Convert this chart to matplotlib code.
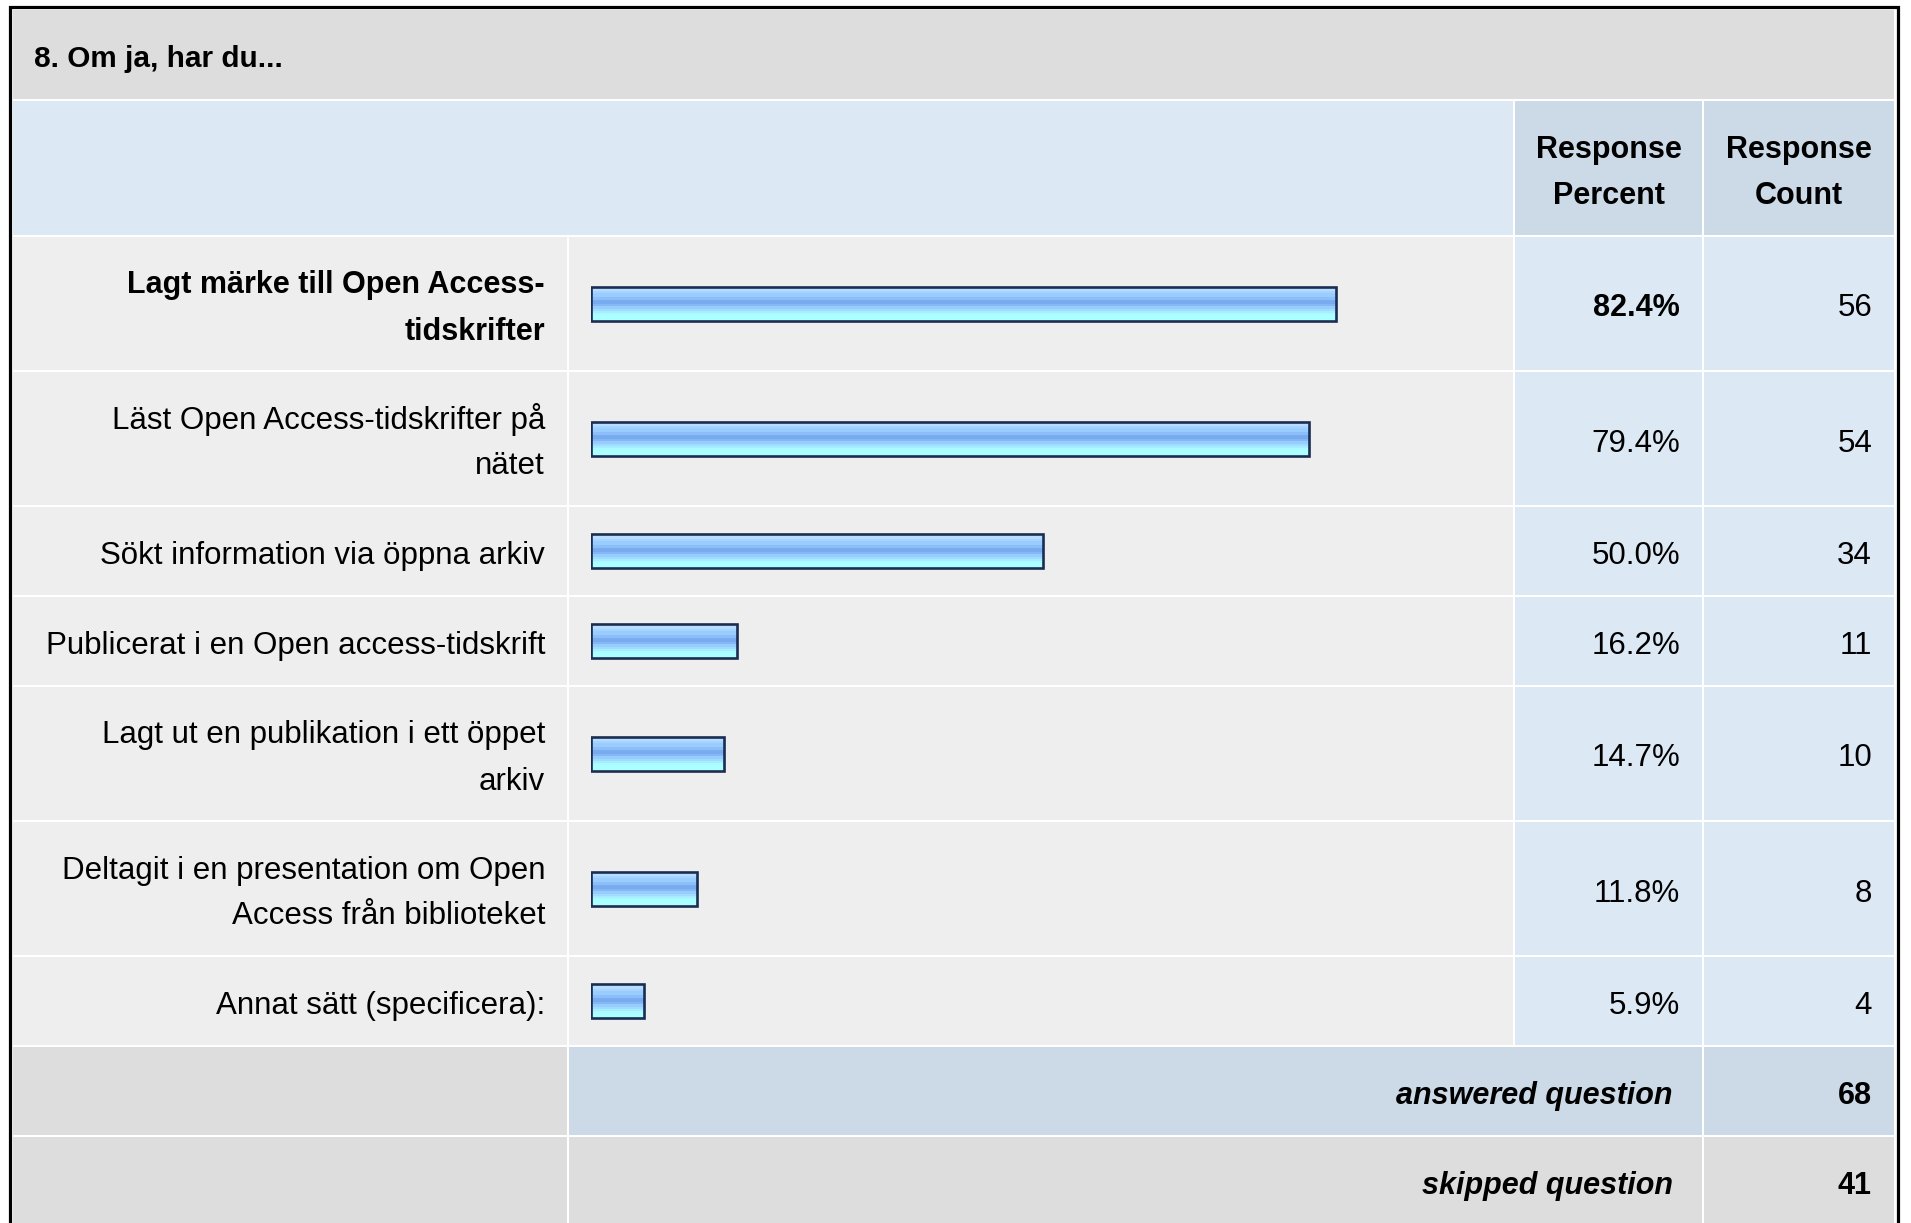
import matplotlib
matplotlib.use("Agg")
import matplotlib.pyplot as plt
import matplotlib.patches as patches
from matplotlib.colors import to_rgb
import numpy as np

plt.rcParams['font.family'] = ['Liberation Sans', 'DejaVu Sans']

title = "8. Om ja, har du..."
col_headers = ["Response\nPercent", "Response\nCount"]
labels = [
    "Lagt märke till Open Access-\ntidskrifter",
    "Läst Open Access-tidskrifter på\nnätet",
    "Sökt information via öppna arkiv",
    "Publicerat i en Open access-tidskrift",
    "Lagt ut en publikation i ett öppet\narkiv",
    "Deltagit i en presentation om Open\nAccess från biblioteket",
    "Annat sätt (specificera):",
]
percents = [82.4, 79.4, 50.0, 16.2, 14.7, 11.8, 5.9]
counts = [56, 54, 34, 11, 10, 8, 4]
footer_labels = ["answered question", "skipped question"]
footer_values = [68, 41]

W, H = 1911, 1223
DPI = 100
FS = 22.5      # regular text
FS_B = 22      # bold text

# column edges (pixels)
x_left, x_right = 13, 1894
x_lab, x_pct, x_cnt = 567, 1513, 1702
gap = 2
bar_x0, bar_x1 = 590.8, 1494.8

# colours
c_title = '#dddddd'
c_head = '#dde8f5'
c_head2 = '#ccd9e6'
c_row = '#eeeeee'
c_foot = '#dddddd'
edge_col = '#1a2d52'
stripes = ['#d2e9ff', '#b8dcff', '#a6d3ff', '#99ccff', '#99ccff', '#8cbff8',
           '#78abef', '#77aaee', '#84b7f3', '#97cdfd', '#9fdcff', '#a6eeff',
           '#aafaff', '#aaffff', '#aaffff']

fig = plt.figure(figsize=(W / DPI, H / DPI), dpi=DPI)
fig.patch.set_facecolor('white')
bg = fig.add_axes([0, 0, 1, 1])
bg.set_xlim(0, W)
bg.set_ylim(H, 0)
bg.axis('off')


def cell(x0, x1, y0, y1, color):
    bg.add_patch(patches.Rectangle((x0, y0), x1 - x0, y1 - y0,
                                   facecolor=color, edgecolor='none', zorder=1))


def txt(x, y, s, ha='right', weight='normal', style='normal', size=None):
    if size is None:
        size = FS_B if weight == 'bold' else FS
    bg.text(x, y, s, ha=ha, va='baseline', fontsize=size,
            fontweight=weight, fontstyle=style, color='#000000', zorder=5)


def lines(x, yc, s, ha='right', weight='normal', style='normal', size=None):
    parts = s.split("\n")
    n = len(parts)
    for i, p in enumerate(parts):
        base = yc + (i - (n - 1) / 2) * 46 + 13
        txt(x, base, p, ha=ha, weight=weight, style=style, size=size)


# title band
cell(x_left, x_right, 10, 99, c_title)
txt(34, 67, title, ha='left', weight='bold', size=21.4)

# header row
y0, y1 = 101, 235
cell(x_left, x_pct, y0, y1, c_head)
cell(x_pct + gap, x_cnt, y0, y1, c_head2)
cell(x_cnt + gap, x_right, y0, y1, c_head2)
hc = (y0 + y1) / 2
lines((x_pct + gap + x_cnt) / 2, hc, col_headers[0], ha='center', weight='bold')
lines((x_cnt + gap + x_right) / 2, hc, col_headers[1], ha='center', weight='bold')

# data rows
row_centres = []
y = y1 + gap
top_idx = int(np.argmax(percents))
for i, lab in enumerate(labels):
    h = 133 if "\n" in lab else 88
    cell(x_left, x_lab, y, y + h, c_row)
    cell(x_lab + gap, x_pct, y, y + h, c_row)
    cell(x_pct + gap, x_cnt, y, y + h, c_head)
    cell(x_cnt + gap, x_right, y, y + h, c_head)
    yc = y + h / 2
    row_centres.append(yc)
    w = 'bold' if i == top_idx else 'normal'
    lines(545, yc, lab, weight=w)
    lines(1680, yc, f"{percents[i]:.1f}%", weight=w)
    lines(1872, yc, str(counts[i]))
    y += h + gap

# footer rows
foot_cols = [(c_foot, c_head2, c_head2), (c_foot, c_foot, c_foot)]
for i, (lab, val) in enumerate(zip(footer_labels, footer_values)):
    h = 88 if i == 0 else H - y + 5
    ca, cb, cc = foot_cols[i]
    cell(x_left, x_lab, y, y + h, ca)
    cell(x_lab + gap, x_cnt, y, y + h, cb)
    cell(x_cnt + gap, x_right, y, y + h, cc)
    yc = y + 44
    lines(1673, yc, lab, weight='bold', style='italic')
    lines(1872, yc, str(val), weight='bold')
    y += h + gap

# outer frame
bg.plot([9.5, 9.5, 1898, 1898], [H + 10, 7, 7, H + 10], color='black',
        lw=2.3, solid_joinstyle='miter', zorder=6, clip_on=False)

# bars
bx = fig.add_axes([bar_x0 / W, 0, (bar_x1 - bar_x0) / W, 1])
bx.patch.set_alpha(0)
bars = bx.barh(row_centres, percents, height=34, facecolor='none',
               edgecolor=edge_col, linewidth=1.9, zorder=3)
grad = np.array([to_rgb(c) for c in stripes])[:, None, :]
for b, v, yc in zip(bars, percents, row_centres):
    im = bx.imshow(grad, extent=(0, v, yc + 17, yc - 17), aspect='auto',
                   interpolation='nearest', origin='upper', zorder=2)
    im.set_clip_path(b)
bx.set_xlim(0, 100)
bx.set_ylim(H, 0)
bx.axis('off')

fig.savefig('out.png', dpi=DPI)
